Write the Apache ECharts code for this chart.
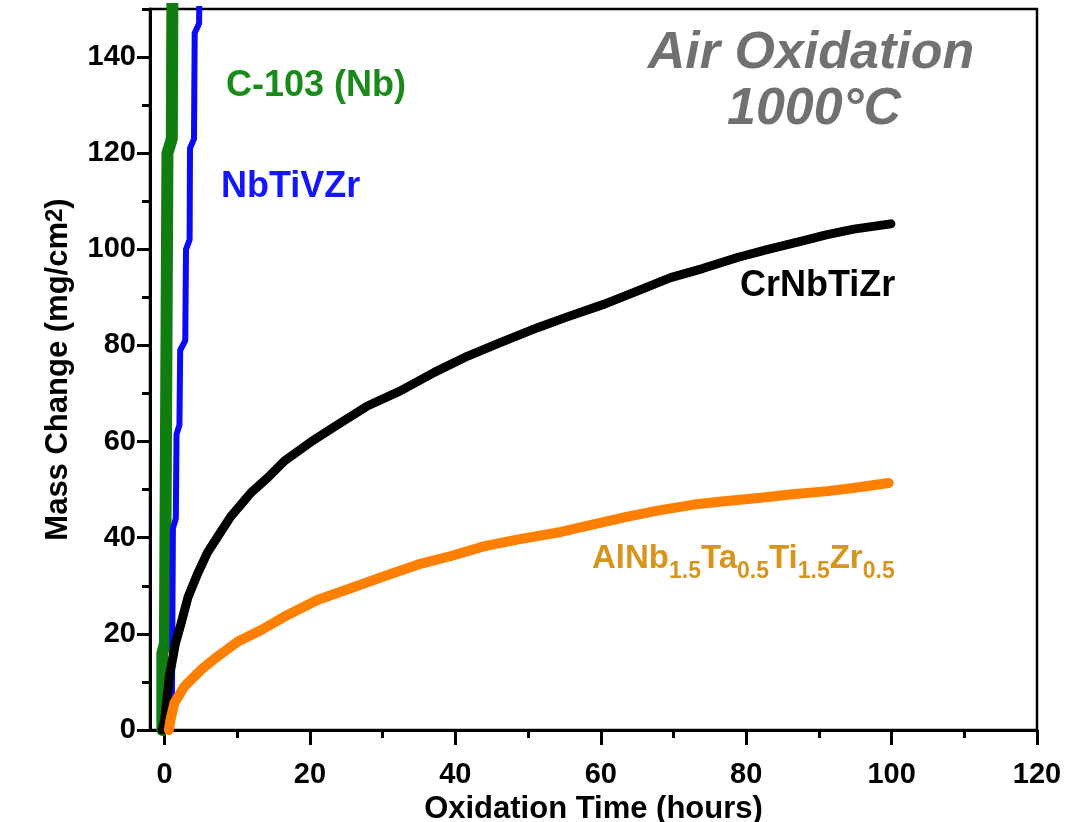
<!DOCTYPE html>
<html><head><meta charset="utf-8">
<script src="https://cdn.jsdelivr.net/npm/echarts@6/dist/echarts.min.js"></script>
<style>html,body{margin:0;padding:0;background:#fff}#c{width:1084px;height:822px}</style>
</head><body><div id="c"></div>
<script>
// ---- tick values ----
const xTicks = [0, 20, 40, 60, 80, 100, 120];
const xMinor = [10, 30, 50, 70, 90, 110];
const yTicks = [0, 20, 40, 60, 80, 100, 120, 140];
const yMinor = [10, 30, 50, 70, 90, 110, 130, 150];

// ---- series (time in hours, mass change in mg/cm2) ----
const c103Time = [-0.3, -0.3, 0.05, 0.4, 1.0, 1.1];
const c103Mass = [0, 16, 18, 120, 123, 160];

const nbtivzrTime = [1.0, 1.15, 1.55, 1.65, 2.05, 2.15, 2.85, 2.95, 3.45, 3.5, 4.05, 4.15, 4.75, 4.85];
const nbtivzrMass = [2, 42, 44, 61.5, 63.5, 79, 81, 100, 102, 121, 123, 145, 147, 160];

const crnbtizrTime = [-0.3, 0, 0.3, 0.65, 1.5, 2.3, 3.2, 4.6, 5.9, 7.3, 9.1, 11.9, 14.2, 16.5, 20.1, 23.8, 27.9, 32.5, 37.1, 41.7, 46, 51.3, 55.5, 60.5, 65, 69.6, 74, 78.8, 83, 87.9, 91, 94.8, 99.9];
const crnbtizrMass = [0, 2, 6, 11, 18, 22.3, 27.5, 32.7, 36.9, 40.2, 44.4, 49.4, 52.5, 56.0, 59.9, 63.5, 67.4, 70.6, 74.4, 77.8, 80.5, 83.7, 86, 88.6, 91.3, 94.1, 96, 98.3, 100, 101.8, 103, 104.2, 105.3];

const alnbTime = [0.6, 0.8, 1.35, 2.7, 5.0, 7.3, 10.1, 13.3, 16.5, 21.1, 25.6, 30.2, 34.8, 39.4, 43.9, 48.5, 54.5, 59, 63.7, 68, 72.8, 77, 82.0, 86, 91.2, 95, 99.6];
const alnbMass = [0, 2, 5.6, 9.0, 12.5, 15.3, 18.4, 20.8, 23.6, 27.1, 29.5, 32.0, 34.4, 36.2, 38.2, 39.6, 41.2, 42.8, 44.4, 45.7, 46.9, 47.6, 48.3, 49.0, 49.7, 50.4, 51.4];

const zip = (a, b) => a.map((v, i) => [v, b[i]]);
const FF = '"Liberation Sans", Arial, sans-serif';

const chart = echarts.init(document.getElementById('c'), null, {renderer: 'canvas'});

function lineSeries(name, t, m, color, width) {
  return {
    name, type: 'line', data: zip(t, m), showSymbol: false, clip: true,
    lineStyle: {color, width, cap: 'round', join: 'round'},
    itemStyle: {color}, animation: false
  };
}

const option = {
  animation: false,
  backgroundColor: '#fff',
  grid: {left: 150, right: 47, top: 9, bottom: 92, show: true, borderColor: '#000', borderWidth: 2.5,
         containLabel: false, outerBoundsMode: 'none'},
  xAxis: [{
    type: 'value', min: -2, max: 120, position: 'bottom',
    axisLine: {show: true, onZero: false, lineStyle: {color: '#000', width: 3}},
    axisTick: {show: true, customValues: xTicks, length: 15, lineStyle: {color: '#000', width: 3}},
    axisLabel: {customValues: xTicks, margin: 30, fontSize: 29, fontWeight: 'bold', color: '#000', fontFamily: FF},
    splitLine: {show: false},
    name: 'Oxidation Time (hours)', nameLocation: 'middle', nameGap: 61,
    nameTextStyle: {fontSize: 31, fontWeight: 'bold', color: '#000', fontFamily: FF}
  }, {
    type: 'value', min: -2, max: 120, position: 'bottom',
    axisLine: {show: false, onZero: false},
    axisTick: {show: true, customValues: xMinor, length: 8, lineStyle: {color: '#000', width: 3}},
    axisLabel: {show: false}, splitLine: {show: false}
  }],
  yAxis: [{
    type: 'value', min: 0, max: 150, position: 'left',
    axisLine: {show: true, onZero: false, lineStyle: {color: '#000', width: 3}},
    axisTick: {show: true, customValues: yTicks, length: 13, lineStyle: {color: '#000', width: 3}},
    axisLabel: {customValues: yTicks, margin: 14, fontSize: 29, fontWeight: 'bold', color: '#000', fontFamily: FF},
    splitLine: {show: false},
    name: 'Mass Change (mg/cm{sup|2})', nameLocation: 'middle', nameGap: 76,
    nameTextStyle: {fontSize: 31, fontWeight: 'bold', color: '#000', fontFamily: FF,
      rich: {sup: {fontSize: 24, fontWeight: 'bold', color: '#000', fontFamily: FF, verticalAlign: 'top'}}}
  }, {
    type: 'value', min: 0, max: 150, position: 'left',
    axisLine: {show: false, onZero: false},
    axisTick: {show: true, customValues: yMinor, length: 8, lineStyle: {color: '#000', width: 3}},
    axisLabel: {show: false}, splitLine: {show: false}
  }],
  series: [
    lineSeries('C-103 (Nb)', c103Time, c103Mass, '#107d10', 12),
    lineSeries('NbTiVZr', nbtivzrTime, nbtivzrMass, '#0a0af5', 6),
    lineSeries('CrNbTiZr', crnbtizrTime, crnbtizrMass, '#000000', 9),
    lineSeries('AlNb1.5Ta0.5Ti1.5Zr0.5', alnbTime, alnbMass, '#ff8000', 10)
  ],
  graphic: [
    {type: 'text', x: 811, y: 54, style: {text: 'Air Oxidation', fill: '#737070', font: 'italic bold 52px ' + FF, textAlign: 'center', verticalAlign: 'middle'}},
    {type: 'text', x: 814, y: 110, style: {text: '1000°C', fill: '#737070', font: 'italic bold 52px ' + FF, textAlign: 'center', verticalAlign: 'middle'}},
    {type: 'text', x: 226, y: 86, style: {text: 'C-103 (Nb)', fill: '#1a8a1a', font: 'bold 36px ' + FF, textAlign: 'left', verticalAlign: 'middle'}},
    {type: 'text', x: 221, y: 187, style: {text: 'NbTiVZr', fill: '#1414ff', font: 'bold 36px ' + FF, textAlign: 'left', verticalAlign: 'middle'}},
    {type: 'text', x: 740, y: 286, style: {text: 'CrNbTiZr', fill: '#000', font: 'bold 36px ' + FF, textAlign: 'left', verticalAlign: 'middle'}},
    {type: 'text', x: 592, y: 563, style: {
      text: '{m|AlNb}{s|1.5}{m|Ta}{s|0.5}{m|Ti}{s|1.5}{m|Zr}{s|0.5}',
      textAlign: 'left', verticalAlign: 'middle',
      rich: {
        m: {fontSize: 33, fontWeight: 'bold', fontFamily: FF, fill: '#d6951d', color: '#d6951d', verticalAlign: 'bottom', padding: [0, 0, 8, 0]},
        s: {fontSize: 23, fontWeight: 'bold', fontFamily: FF, fill: '#d6951d', color: '#d6951d', verticalAlign: 'bottom'}
      }
    }}
  ]
};
chart.setOption(option);
</script>
</body></html>
